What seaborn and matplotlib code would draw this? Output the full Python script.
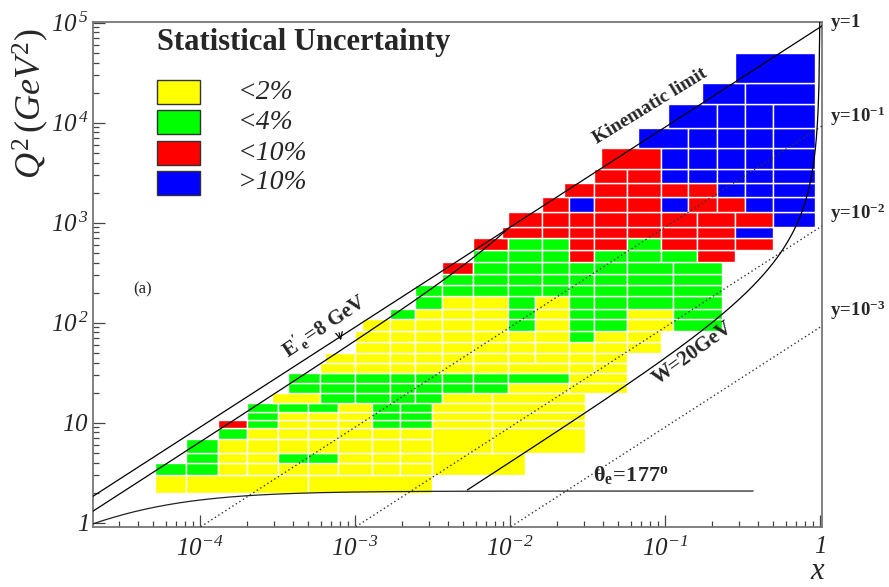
import numpy as np
import pandas as pd
import seaborn as sns
import matplotlib
matplotlib.use("Agg")
import matplotlib.pyplot as plt
from matplotlib.patches import Rectangle
from matplotlib.ticker import FixedLocator, FixedFormatter, LogLocator, NullFormatter

# ---------------------------------------------------------------------------
# Binning of the (x, Q^2) plane and statistical-uncertainty class per bin
# Y: <2%   G: <4%   R: <10%   B: >10%
# ---------------------------------------------------------------------------
q2_edges = [2.0, 3.0, 4.0, 5.0, 6.9, 8.8, 10.6, 12.7, 15.6, 19.7, 24.8, 31.4,
            39.5, 50, 64, 83, 108, 137, 183, 238, 310, 409, 533, 711, 906,
            1290, 1790, 2470, 3480, 5590, 8950, 15400, 25200, 50100]

row_x_edges = [
    [5.1e-5, 8.1e-5, 5.0e-4, 3.14e-3],
    [5.1e-5, 8.1e-5, 1.3e-4, 2.0e-4, 3.2e-4, 5.0e-4, 7.8e-4, 1.29e-3, 1.95e-3, 3.14e-3],
    [8.1e-5, 1.3e-4, 2.0e-4, 3.2e-4, 5.0e-4, 7.8e-4, 1.29e-3, 1.95e-3, 3.14e-3],
    [8.1e-5, 1.3e-4, 2.0e-4, 3.2e-4, 5.0e-4, 7.8e-4, 1.29e-3, 1.95e-3, 3.14e-3],
    [1.3e-4, 2.0e-4, 3.2e-4, 5.0e-4, 7.8e-4, 1.29e-3, 1.95e-3, 3.14e-3],
    [1.3e-4, 2.0e-4, 3.2e-4, 5.0e-4, 7.8e-4, 1.29e-3, 1.95e-3, 3.14e-3, 7.65e-3, 3.05e-2],
    [2.0e-4, 3.2e-4, 5.0e-4, 7.8e-4, 1.29e-3, 1.95e-3, 3.14e-3, 7.65e-3, 3.05e-2],
    [2.0e-4, 3.2e-4, 5.0e-4, 7.8e-4, 1.29e-3, 1.95e-3, 3.14e-3, 7.65e-3, 3.05e-2],
    [2.9e-4, 5.9e-4, 1.0e-3, 1.68e-3, 2.44e-3, 3.64e-3, 7.65e-3, 3.05e-2],
    [3.7e-4, 5.9e-4, 1.0e-3, 1.68e-3, 2.44e-3, 3.64e-3, 5.77e-3, 9.71e-3, 2.40e-2, 5.69e-2],
    [3.7e-4, 5.9e-4, 1.0e-3, 1.68e-3, 2.44e-3, 3.64e-3, 5.77e-3, 9.71e-3, 2.40e-2, 5.69e-2],
    [5.9e-4, 1.0e-3, 1.68e-3, 2.44e-3, 3.64e-3, 5.77e-3, 9.71e-3, 2.40e-2, 3.48e-2, 5.69e-2],
    [6.4e-4, 1.0e-3, 1.68e-3, 2.44e-3, 3.64e-3, 5.77e-3, 9.71e-3, 1.45e-2, 2.40e-2, 3.48e-2, 5.69e-2],
    [1.0e-3, 1.68e-3, 2.44e-3, 3.64e-3, 5.77e-3, 9.71e-3, 1.45e-2, 2.40e-2, 3.48e-2, 5.69e-2, 9.42e-2],
    [1.0e-3, 1.68e-3, 2.44e-3, 3.64e-3, 5.77e-3, 9.71e-3, 1.45e-2, 2.40e-2, 3.48e-2, 5.69e-2, 9.42e-2],
    [1.11e-3, 1.68e-3, 2.44e-3, 3.64e-3, 5.77e-3, 9.71e-3, 1.45e-2, 2.40e-2, 3.48e-2, 5.69e-2, 0.113, 0.233],
    [1.68e-3, 2.44e-3, 3.64e-3, 5.77e-3, 9.71e-3, 1.45e-2, 2.40e-2, 3.48e-2, 5.69e-2, 0.113, 0.233],
    [2.44e-3, 3.64e-3, 5.77e-3, 9.71e-3, 1.45e-2, 2.40e-2, 3.48e-2, 5.69e-2, 0.113, 0.233],
    [2.44e-3, 3.64e-3, 5.77e-3, 9.71e-3, 1.61e-2, 2.40e-2, 3.48e-2, 5.69e-2, 0.113, 0.233],
    [3.64e-3, 5.77e-3, 9.71e-3, 1.61e-2, 2.40e-2, 3.48e-2, 5.69e-2, 0.113, 0.233],
    [3.64e-3, 5.77e-3, 9.71e-3, 1.61e-2, 2.40e-2, 3.48e-2, 5.69e-2, 0.113, 0.233],
    [5.77e-3, 9.71e-3, 1.61e-2, 2.40e-2, 3.48e-2, 5.69e-2, 9.42e-2, 0.161, 0.283],
    [5.77e-3, 9.71e-3, 1.61e-2, 2.40e-2, 3.48e-2, 5.69e-2, 9.42e-2, 0.161, 0.283, 0.497],
    [8.88e-3, 1.61e-2, 2.40e-2, 3.48e-2, 5.69e-2, 9.42e-2, 0.161, 0.283, 0.497],
    [9.71e-3, 1.61e-2, 2.40e-2, 3.48e-2, 5.69e-2, 9.42e-2, 0.161, 0.283, 0.497, 0.928],
    [1.61e-2, 2.40e-2, 3.48e-2, 5.69e-2, 9.42e-2, 0.141, 0.217, 0.328, 0.497, 0.928],
    [2.23e-2, 3.48e-2, 5.69e-2, 9.42e-2, 0.141, 0.217, 0.328, 0.497, 0.928],
    [3.48e-2, 5.69e-2, 9.42e-2, 0.141, 0.217, 0.328, 0.497, 0.928],
    [3.87e-2, 9.42e-2, 0.141, 0.217, 0.328, 0.497, 0.928],
    [6.69e-2, 0.141, 0.217, 0.328, 0.497, 0.928],
    [0.105, 0.217, 0.328, 0.497, 0.928],
    [0.173, 0.328, 0.928],
    [0.283, 0.928],
]

row_classes = [
    "YYY", "GGYYYYYYY", "GYYGGYYY", "GYYYYYYY", "GYYYYYY",
    "RGYYYGGYY", "GYYYGGYY", "GGGYGGYY", "YGGGGYY",
    "GGGGGGGYY", "GGGGGGGGY", "YYYYYYYYY", "YYYYYYYYYY",
    "YYYYYYYYYY", "YYYYYYYGYY", "YYYYYGYGGYG", "GYYYGYGGYG",
    "GYYGYGGGG", "GGGGGGGGG", "GGGGGGGG", "RGGGGGGG",
    "GGGRGGGR", "RGGRRGRRR", "RRRRRRRB", "RRRRRRRRB",
    "RBRRBRRBB", "RRRRRBBB", "RRBBBBB", "RBBBBB",
    "BBBBB", "BBBB", "BB", "B",
]

# bins that span more than one Q^2 row
wide_x_lo = [3.14e-3, 3.14e-3, 7.65e-3]
wide_x_hi = [1.25e-2, 7.65e-3, 3.05e-2]
wide_q2_lo = [3.0, 5.0, 5.0]
wide_q2_hi = [5.0, 8.8, 8.8]
wide_class = ["Y", "Y", "Y"]

legend_classes = ["Y", "G", "R", "B"]
legend_labels = ["<2%", "<4%", "<10%", ">10%"]
class_colors = {"Y": "#ffff00", "G": "#00ff00", "R": "#ff0000", "B": "#0000ff"}

# axis ticks (\mathsf is mapped to an italic serif below, so digits slant)
x_tick_values = [1e-4, 1e-3, 1e-2, 1e-1, 1]
x_tick_labels = [r"$\mathsf{10}^{\mathsf{-4}}$", r"$\mathsf{10}^{\mathsf{-3}}$",
                 r"$\mathsf{10}^{\mathsf{-2}}$", r"$\mathsf{10}^{\mathsf{-1}}$",
                 r"$\mathsf{1}$"]
y_tick_values = [1, 10, 1e2, 1e3, 1e4, 1e5]
y_tick_labels = [r"$\mathsf{1}$", r"$\mathsf{10}$", r"$\mathsf{10}^{\,\mathsf{2}}$",
                 r"$\mathsf{10}^{\,\mathsf{3}}$", r"$\mathsf{10}^{\,\mathsf{4}}$",
                 r"$\mathsf{10}^{\,\mathsf{5}}$"]

# kinematics of the guide lines
E_e, E_p = 27.5, 820.0
s = 4 * E_e * E_p
y_lines = [1.0, 0.1, 0.01, 0.001]
E_scat = 8.0
theta_e = 177.0
W_line = 20.0
m_p = 0.938
theta_x_end = 0.37

X_MIN, X_MAX = 2.03e-5, 1.03
Q2_MIN, Q2_MAX = 0.912, 1.023e5

# ---------------------------------------------------------------------------
sns.set_theme(style="white")
plt.rcParams.update({
    "font.family": ["Liberation Serif", "DejaVu Serif"],
    "mathtext.fontset": "custom",
    "mathtext.rm": "Liberation Serif",
    "mathtext.it": "Liberation Serif:italic",
    "mathtext.bf": "Liberation Serif:bold",
    "mathtext.sf": "Liberation Serif:italic",
})

fig = plt.figure(figsize=(8.89, 5.87), dpi=100)
ax = fig.add_axes([0.1043, 0.1027, 0.8204, 0.8603])
ax.set_xscale("log")
ax.set_yscale("log")

records = []
for k, (edges, cls) in enumerate(zip(row_x_edges, row_classes)):
    for i, c in enumerate(cls):
        records.append((edges[i], edges[i + 1], q2_edges[k], q2_edges[k + 1], c))
for rec in zip(wide_x_lo, wide_x_hi, wide_q2_lo, wide_q2_hi, wide_class):
    records.append(rec)
bins = pd.DataFrame(records, columns=["x_lo", "x_hi", "q2_lo", "q2_hi", "cls"])

ax.bar(bins["x_lo"], bins["q2_hi"] - bins["q2_lo"], width=bins["x_hi"] - bins["x_lo"],
       bottom=bins["q2_lo"], align="edge", color=bins["cls"].map(class_colors),
       edgecolor="white", linewidth=1.0, zorder=1)


def guide(x, q2, **kw):
    sns.lineplot(x=x, y=q2, ax=ax, sort=False, estimator=None, legend=False,
                 zorder=3, **kw)


# lines of constant inelasticity y: Q^2 = s x y
for yv in y_lines:
    xs = np.logspace(np.log10(max(X_MIN, Q2_MIN / (s * yv))), np.log10(X_MAX), 300)
    if yv == 1.0:
        guide(xs, s * xs * yv, color="black", linewidth=0.9)
    else:
        guide(xs, s * xs * yv, color="#333333", linewidth=1.0, linestyle=(0, (1, 2)))

# scattered electron energy E'_e = 8 GeV (up to y = 1)
x_cross = E_scat / E_p
xs = np.logspace(np.log10(X_MIN), np.log10(x_cross), 300)
y_e = (E_e - E_scat) / (E_e - E_p * xs)
guide(xs, s * xs * y_e, color="black", linewidth=0.9)

# electron scattering angle 177 degrees
q2_theta = 4 * E_e ** 2 / np.tan(np.radians(theta_e) / 2) ** 2
xs = np.logspace(np.log10(X_MIN), np.log10(theta_x_end), 300)
guide(xs, q2_theta / (1 + q2_theta / (s * xs)), color="#222222", linewidth=0.9)

# invariant mass W = 20 GeV
xs = np.logspace(np.log10(0.0053), np.log10(0.9962), 400)
guide(xs, (W_line ** 2 - m_p ** 2) * xs / (1 - xs), color="black", linewidth=0.9)

ax.set_xlim(X_MIN, X_MAX)
ax.set_ylim(Q2_MIN, Q2_MAX)
ax.set_xlabel("")
ax.set_ylabel("")

# ticks in ROOT style: inside, bottom and left only
ax.xaxis.set_major_locator(FixedLocator(x_tick_values))
ax.xaxis.set_major_formatter(FixedFormatter(x_tick_labels))
ax.yaxis.set_major_locator(FixedLocator(y_tick_values))
ax.yaxis.set_major_formatter(FixedFormatter(y_tick_labels))
for axis in (ax.xaxis, ax.yaxis):
    axis.set_minor_locator(LogLocator(base=10, subs=np.arange(2, 10), numticks=30))
    axis.set_minor_formatter(NullFormatter())
ax.tick_params(which="both", direction="in", top=False, right=False,
               bottom=True, left=True, color="#444444", width=0.9)
ax.tick_params(which="major", length=8.5, labelsize=18)
ax.tick_params(axis="x", which="major", pad=7)
ax.tick_params(axis="y", which="major", pad=3)
ax.tick_params(which="minor", length=4.5)
for sp in ax.spines.values():
    sp.set_color("#777777")
    sp.set_linewidth(1.3)

tr = ax.transAxes
# legend
ax.text(0.2897, 0.958, "Statistical Uncertainty", transform=tr, ha="center",
        va="center", fontsize=22, fontweight="bold")
box_bottoms = [0.837, 0.777, 0.716, 0.657]
for yb, c, lab in zip(box_bottoms, legend_classes, legend_labels):
    ax.add_patch(Rectangle((0.0878, yb), 0.0594, 0.0475, transform=tr,
                           facecolor=class_colors[c], edgecolor="#333333",
                           linewidth=1.0, zorder=5))
    ax.text(0.1992, yb + 0.0237, lab, transform=tr, ha="left", va="center",
            fontsize=20, style="italic")

# annotations of the guide lines
ax.text(0.764, 0.832, "Kinematic limit", transform=tr, rotation=31.5,
        rotation_mode="anchor", ha="center", va="center", fontsize=14,
        fontweight="bold")
ax.text(0.3174, 0.397, r"$\mathbf{E'_e\!=\!8\ GeV}$", transform=tr, rotation=34,
        rotation_mode="anchor", ha="center", va="center", fontsize=15)
ax.annotate("", xy=(0.3414, 0.3638), xytext=(0.3368, 0.3895), xycoords=tr,
            textcoords=tr, arrowprops=dict(arrowstyle="->", lw=0.9, color="black"))
ax.text(0.8224, 0.344, "W=20GeV", transform=tr, rotation=36,
        rotation_mode="anchor", ha="center", va="center", fontsize=15,
        fontweight="bold")
ax.text(0.738, 0.1024, r"$\mathbf{\theta_e\!=\!177^o}$", transform=tr,
        ha="center", va="center", fontsize=16)
ax.text(0.069, 0.469, "(a)", transform=tr, ha="center", va="center", fontsize=12)

y_labels = [r"$\mathbf{y\!=\!1}$", r"$\mathbf{y\!=\!10^{-1}}$",
            r"$\mathbf{y\!=\!10^{-2}}$", r"$\mathbf{y\!=\!10^{-3}}$"]
for lab, fy in zip(y_labels, [0.999, 0.812, 0.620, 0.428]):
    ax.text(1.011, fy, lab, transform=tr, ha="left", va="center", fontsize=13.5,
            clip_on=False)

# axis titles
ax.text(-0.0855, 0.838, r"$Q^2\,(GeV^2)$", transform=tr, rotation=90,
        ha="center", va="center", fontsize=26)
ax.text(0.9945, -0.088, r"$x$", transform=tr, ha="center", va="center",
        fontsize=22)

fig.savefig("out.png", dpi=100)
